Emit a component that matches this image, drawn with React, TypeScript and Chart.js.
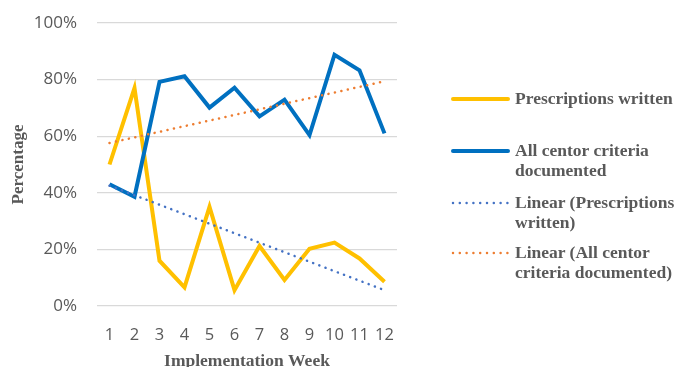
import React, { useEffect, useRef } from "react";
import { Chart, registerables } from "chart.js";

Chart.register(...registerables);

const weeks = ["1", "2", "3", "4", "5", "6", "7", "8", "9", "10", "11", "12"];
const prescriptions = [50, 77, 16, 6.6, 35, 5.6, 21.2, 9.2, 20.2, 22.4, 16.8, 8.6];
const centor = [43, 38.6, 79.2, 81.2, 70.1, 77.1, 67, 72.9, 60.4, 88.8, 83.3, 61];
const trendPrescriptions = [42.5, null, null, null, null, null, null, null, null, null, null, 5.6];
const trendCentor = [57.6, null, null, null, null, null, null, null, null, null, null, 79.4];

const seriesNames = [
  "Prescriptions written",
  "All centor criteria documented",
  "Linear (Prescriptions written)",
  "Linear (All centor criteria documented)",
];

const YELLOW = "#FFC000";
const BLUE = "#0070C0";
const TBLUE = "#4472C4";
const ORANGE = "#ED7D31";
const TEXT = "#595959";

export default function App() {
  const ref = useRef<HTMLCanvasElement>(null);
  useEffect(() => {
    if (!ref.current) return;
    const chart = new Chart(ref.current, {
      type: "line",
      data: {
        labels: weeks,
        datasets: [
          { label: seriesNames[0], data: prescriptions, borderColor: YELLOW, borderWidth: 4, pointRadius: 0, tension: 0, order: 2 },
          { label: seriesNames[1], data: centor, borderColor: BLUE, borderWidth: 4, pointRadius: 0, tension: 0, order: 1 },
          { label: seriesNames[2], data: trendPrescriptions, borderColor: TBLUE, borderWidth: 2.5, borderDash: [0.1, 6.5], borderCapStyle: "round", pointRadius: 0, spanGaps: true, order: 0 },
          { label: seriesNames[3], data: trendCentor, borderColor: ORANGE, borderWidth: 2.5, borderDash: [0.1, 6.5], borderCapStyle: "round", pointRadius: 0, spanGaps: true, order: 0 },
        ],
      },
      options: {
        animation: false,
        responsive: false,
        layout: { padding: { top: 23, right: 278, left: 0, bottom: 0 } },
        plugins: { legend: { display: false }, tooltip: { enabled: false } },
        scales: {
          x: {
            offset: true,
            grid: { display: false, drawTicks: false },
            border: { display: false },
            ticks: { color: TEXT, font: { family: "Open Sans", size: 16.5 }, padding: 19, autoSkip: false, maxRotation: 0, minRotation: 0 },
            title: { display: true, text: "Implementation Week", color: TEXT, font: { family: "Liberation Serif", size: 17.5, weight: "bold" }, padding: { top: 0, bottom: -5 } },
            afterFit: (s: any) => { s.height = 61; s.paddingLeft = 0; s.paddingRight = 0; },
          },
          y: {
            min: 0,
            max: 100,
            ticks: { stepSize: 20, color: TEXT, font: { family: "Open Sans", size: 17 }, padding: 20, callback: (v: any) => v + "%" },
            grid: { color: "#D9D9D9", lineWidth: 1.3, drawTicks: false },
            border: { display: false },
            title: { display: true, text: "Percentage", color: TEXT, font: { family: "Liberation Serif", size: 17, weight: "bold" }, padding: { top: 8, bottom: 0 } },
            afterFit: (s: any) => { s.width = 97; s.paddingTop = 0; s.paddingBottom = 0; },
          },
        },
      },
    });
    return () => chart.destroy();
  }, []);

  const legendItems = [
    { color: YELLOW, dotted: false, lines: ["Prescriptions written"], y: 99 },
    { color: BLUE, dotted: false, lines: ["All centor criteria", "documented"], y: 151 },
    { color: TBLUE, dotted: true, lines: ["Linear (Prescriptions", "written)"], y: 203 },
    { color: ORANGE, dotted: true, lines: ["Linear (All centor", "criteria documented)"], y: 253 },
  ];

  return (
    <div style={{ position: "fixed", left: 0, top: 0, width: 675, height: 367, background: "#fff", overflow: "hidden" }}>
      <canvas ref={ref} width={675} height={367} style={{ position: "absolute", left: 0, top: 0 }} />
      <svg width={675} height={367} style={{ position: "absolute", left: 0, top: 0 }}>
        {legendItems.map((it, i) => (
          <line
            key={i}
            x1={453}
            x2={508}
            y1={it.y}
            y2={it.y}
            stroke={it.color}
            strokeWidth={it.dotted ? 2.5 : 4}
            strokeLinecap="round"
            strokeDasharray={it.dotted ? "0 6.8" : undefined}
          />
        ))}
      </svg>
      {legendItems.map((it, i) =>
        it.lines.map((t, j) => (
          <div
            key={i + "-" + j}
            style={{
              position: "absolute",
              left: 515,
              top: it.y - 11 + j * 20,
              height: 20,
              lineHeight: "20px",
              whiteSpace: "nowrap",
              fontFamily: "Liberation Serif",
              fontWeight: "bold",
              fontSize: 17.5,
              color: TEXT,
            }}
          >
            {t}
          </div>
        ))
      )}
    </div>
  );
}
